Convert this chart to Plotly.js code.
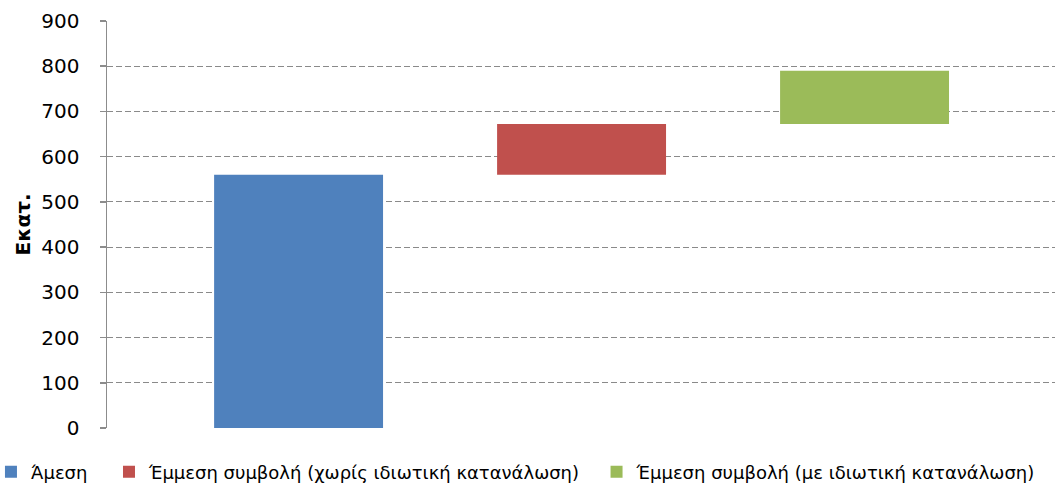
<!DOCTYPE html>
<html>
<head>
<meta charset="utf-8">
<script src="https://cdn.plot.ly/plotly-3.0.1.min.js"></script>
<style>html,body{margin:0;padding:0;background:#fff;}#chart{width:1055px;height:486px;}</style>
</head>
<body>
<div id="chart"></div>
<script>
const categories = ["Άμεση", "Έμμεση συμβολή (χωρίς ιδιωτική κατανάλωση)", "Έμμεση συμβολή (με ιδιωτική κατανάλωση)"];
const values = [560, 112, 118];
const colors = ["#4f81bd", "#c0504d", "#9bbb59"];
const yTicks = [0, 100, 200, 300, 400, 500, 600, 700, 800, 900];

const bases = [];
let run = 0;
for (let i = 0; i < values.length; i++) { bases.push(run); run += values[i]; }

const legendNames = ["legend", "legend2", "legend3"];
const traces = categories.map((c, i) => ({
  type: "bar",
  name: c,
  x: [c],
  y: [values[i]],
  base: [bases[i]],
  width: 0.597,
  marker: {color: colors[i], line: {width: 0}},
  legend: legendNames[i],
  hoverinfo: "skip"
}));

const fontFam = "DejaVu Sans, Verdana, sans-serif";
const legendCommon = {orientation: "h", y: -0.108, yanchor: "middle", xanchor: "left",
  font: {family: fontFam, size: 18, color: "#000"}, itemwidth: 30, bgcolor: "rgba(0,0,0,0)", traceorder: "normal"};

const layout = {
  width: 1055, height: 486,
  margin: {l: 107, r: 0, t: 21, b: 58, autoexpand: false},
  paper_bgcolor: "#fff", plot_bgcolor: "#fff",
  barmode: "overlay",
  font: {family: fontFam, color: "#000"},
  xaxis: {type: "category", categoryorder: "array", categoryarray: categories,
    range: [-0.677, 2.673], showticklabels: false, showgrid: false, zeroline: false,
    showline: false, ticks: "", fixedrange: true, automargin: false},
  yaxis: {range: [0, 900.01], tickvals: yTicks, ticktext: yTicks.map(String),
    showgrid: true, gridcolor: "#8a8a8a", gridwidth: 1, griddash: "6px,3px",
    zeroline: false, showline: true, linecolor: "#8c8c8c", linewidth: 1.5,
    ticks: "outside", ticklen: 6, tickcolor: "#8c8c8c", tickwidth: 1.5,
    ticklabelstandoff: 16, automargin: false,
    tickfont: {family: fontFam, size: 20, color: "#000"},
    title: {text: "<b>Εκατ.</b>", font: {family: fontFam, size: 20, color: "#000"}, standoff: 5}},
  legend: Object.assign({}, legendCommon, {x: -0.1224}),
  legend2: Object.assign({}, legendCommon, {x: 0.0021}),
  legend3: Object.assign({}, legendCommon, {x: 0.5164}),
  showlegend: true
};

Plotly.newPlot("chart", traces, layout, {staticPlot: true, displayModeBar: false});
</script>
</body>
</html>
